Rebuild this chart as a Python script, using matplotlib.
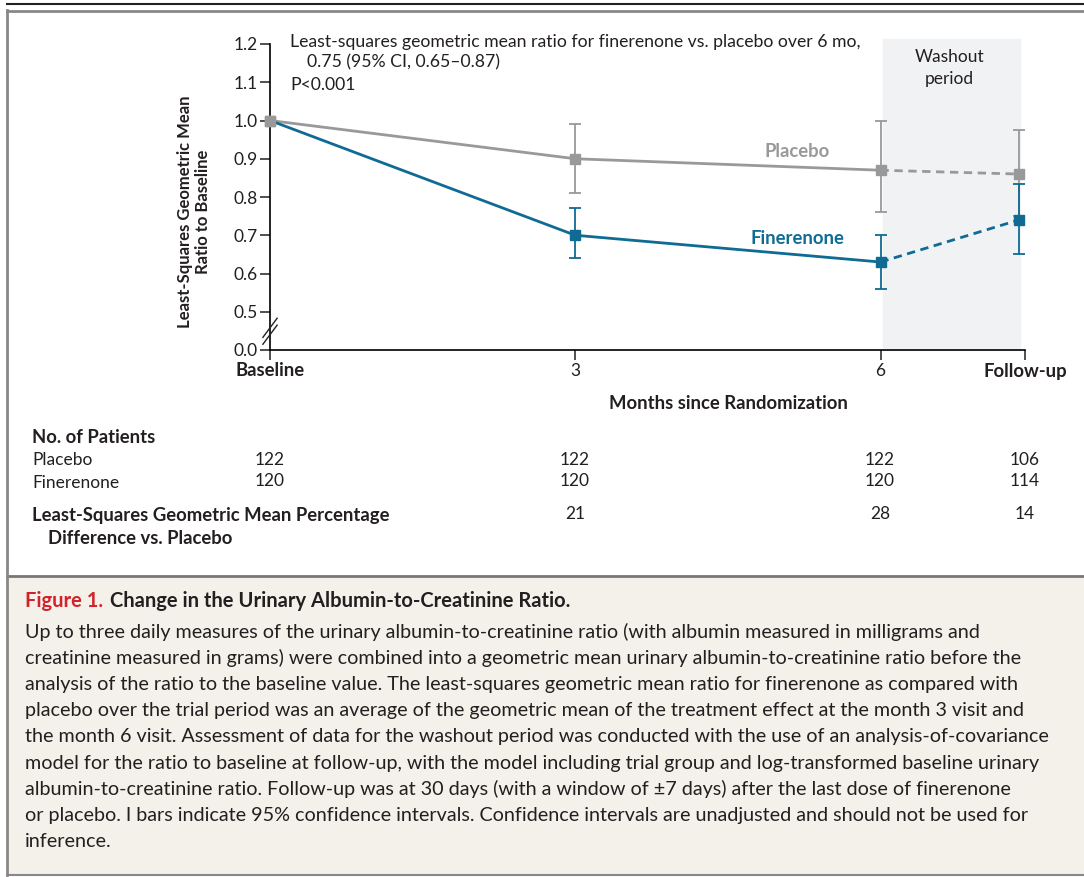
import matplotlib.pyplot as plt
import numpy as np

plt.rcParams['font.family'] = ['Lato', 'DejaVu Sans']

# visit positions in months (follow-up sits just past month 6)
months = [0, 3, 6, 7.36]
tick_pos = [0, 3, 6, 7.42]
tick_labels = ["Baseline", "3", "6", "Follow-up"]

placebo_ratio = [1.0, 0.90, 0.87, 0.86]
placebo_lo = [1.0, 0.81, 0.76, 0.75]
placebo_hi = [1.0, 0.99, 1.00, 0.975]

finer_ratio = [1.0, 0.70, 0.63, 0.74]
finer_lo = [1.0, 0.64, 0.56, 0.65]
finer_hi = [1.0, 0.77, 0.70, 0.835]

n_placebo = [122, 122, 122, 106]
n_finer = [120, 120, 120, 114]
pct_diff = [None, 21, 28, 14]

y_ticks = [0.4, 0.5, 0.6, 0.7, 0.8, 0.9, 1.0, 1.1, 1.2]
y_tick_labels = ["0.0", "0.5", "0.6", "0.7", "0.8", "0.9", "1.0", "1.1", "1.2"]

caption_lines = [
    "Up to three daily measures of the urinary albumin-to-creatinine ratio (with albumin measured in milligrams and",
    "creatinine measured in grams) were combined into a geometric mean urinary albumin-to-creatinine ratio before the",
    "analysis of the ratio to the baseline value. The least-squares geometric mean ratio for finerenone as compared with",
    "placebo over the trial period was an average of the geometric mean of the treatment effect at the month 3 visit and",
    "the month 6 visit. Assessment of data for the washout period was conducted with the use of an analysis-of-covariance",
    "model for the ratio to baseline at follow-up, with the model including trial group and log-transformed baseline urinary",
    "albumin-to-creatinine ratio. Follow-up was at 30 days (with a window of \u00b17 days) after the last dose of finerenone",
    "or placebo. I bars indicate 95% confidence intervals. Confidence intervals are unadjusted and should not be used for",
    "inference.",
]

GRAY = "#999999"
BLUE = "#0f6b93"
TXT = "#231f20"
FS = 12.5   # regular text
FB = 13.3   # bold labels

W, H = 1084, 877
fig = plt.figure(figsize=(W / 100, H / 100), dpi=100)


def fx(x):
    return x / W


def fy(y):
    return 1 - y / H


# frame lines and caption panel
fig.add_artist(plt.Line2D([fx(7), 1], [fy(4), fy(4)], color="#222222", lw=1.5))
fig.add_artist(plt.Line2D([fx(7), 1], [fy(10.5), fy(10.5)], color="#888888", lw=2))
fig.add_artist(plt.Rectangle((fx(7), fy(875)), 1, fy(576) - fy(875),
                             facecolor="#f4f1eb", edgecolor="none"))
fig.add_artist(plt.Line2D([fx(7), 1], [fy(576), fy(576)], color="#777777", lw=2))
fig.add_artist(plt.Line2D([fx(7), 1], [fy(875), fy(875)], color="#888888", lw=1.5))
fig.add_artist(plt.Line2D([fx(7), fx(7)], [fy(10), fy(875)], color="#888888", lw=2))

ax = fig.add_axes([fx(270), fy(350), fx(1025) - fx(270), fy(44) - fy(350)])
ax.set_xlim(0, 7.42)
ax.set_ylim(0.4, 1.2)
ax.patch.set_alpha(0)
for s in ["top", "right"]:
    ax.spines[s].set_visible(False)
ax.spines["left"].set_linewidth(1.2)
ax.spines["bottom"].set_linewidth(1.2)

# washout shading
ax.axvspan(6.02, 7.37, ymin=0, ymax=1.016, color="#f1f2f4", zorder=0, clip_on=False)
ax.text(6.68, 1.137, "Washout\nperiod", ha="center", va="center", fontsize=FS,
        color=TXT, linespacing=1.4)

# placebo
ax.plot(months[:3], placebo_ratio[:3], color=GRAY, lw=2, zorder=2)
ax.plot(months[2:], placebo_ratio[2:], color=GRAY, lw=2, ls=(0, (3, 2)), zorder=2)
ax.errorbar(months[1:], placebo_ratio[1:],
            yerr=[np.subtract(placebo_ratio[1:], placebo_lo[1:]),
                  np.subtract(placebo_hi[1:], placebo_ratio[1:])],
            fmt="none", ecolor=GRAY, elinewidth=1.3, capsize=4, capthick=1.3, zorder=2)
ax.plot(months, placebo_ratio, "s", color=GRAY, ms=7, zorder=3, clip_on=False)

# finerenone
ax.plot(months[:3], finer_ratio[:3], color=BLUE, lw=2, zorder=4)
ax.plot(months[2:], finer_ratio[2:], color=BLUE, lw=2, ls=(0, (3, 2)), zorder=4)
ax.errorbar(months[1:], finer_ratio[1:],
            yerr=[np.subtract(finer_ratio[1:], finer_lo[1:]),
                  np.subtract(finer_hi[1:], finer_ratio[1:])],
            fmt="none", ecolor=BLUE, elinewidth=1.3, capsize=4, capthick=1.3, zorder=4)
ax.plot(months[1:], finer_ratio[1:], "s", color=BLUE, ms=7, zorder=5, clip_on=False)
ax.plot(months[0], placebo_ratio[0], "s", color=GRAY, ms=7, zorder=6, clip_on=False)

ax.text(5.18, 0.919, "Placebo", color=GRAY, fontsize=FB, fontweight="bold",
        ha="center", va="center")
ax.text(5.18, 0.691, "Finerenone", color=BLUE, fontsize=FB, fontweight="bold",
        ha="center", va="center")

ax.set_xticks(tick_pos)
ax.set_xticklabels(tick_labels, fontsize=FS)
for lbl in ax.get_xticklabels():
    if lbl.get_text() in ("Baseline", "Follow-up"):
        lbl.set_fontweight("bold")
        lbl.set_fontsize(FB)
ax.set_yticks(y_ticks)
ax.set_yticklabels(y_tick_labels, fontsize=FS)
ax.tick_params(length=7, width=1.1, colors=TXT, pad=2)
ax.tick_params(axis="x", pad=2)

# axis break on the y spine
for dy in (0.0, 0.018):
    ax.plot([-0.07, 0.07], [0.415 + dy, 0.465 + dy], color="#222222", lw=1, clip_on=False,
            transform=ax.transData, zorder=7)

ax.set_xlabel("Months since Randomization", fontsize=FB, fontweight="bold", color=TXT)
ax.xaxis.set_label_coords((728 - 270) / (1025 - 270), -0.147)
fig.text(fx(194), fy(212), "Least-Squares Geometric Mean\nRatio to Baseline", rotation=90,
         ha="center", va="center", fontsize=12, fontweight="bold", color=TXT, linespacing=1.1)

fig.text(fx(290), fy(42), "Least-squares geometric mean ratio for finerenone vs. placebo over 6 mo,",
         fontsize=12.7, color=TXT, va="center")
fig.text(fx(307), fy(62), "0.75 (95% CI, 0.65\u20130.87)", fontsize=12.7, color=TXT, va="center")
fig.text(fx(290), fy(85), "P<0.001", fontsize=12.7, color=TXT, va="center")

# patients table
col_px = [270, 575, 880, 1025]
fig.text(fx(32), fy(437), "No. of Patients", fontsize=FB, fontweight="bold", color=TXT, va="center")
fig.text(fx(32), fy(460), "Placebo", fontsize=FS, color=TXT, va="center")
fig.text(fx(32), fy(483), "Finerenone", fontsize=FS, color=TXT, va="center")
for xp, a, b, d in zip(col_px, n_placebo, n_finer, pct_diff):
    fig.text(fx(xp), fy(460), str(a), fontsize=FS, color=TXT, ha="center", va="center")
    fig.text(fx(xp), fy(481), str(b), fontsize=FS, color=TXT, ha="center", va="center")
    if d is not None:
        fig.text(fx(xp), fy(514), str(d), fontsize=FS, color=TXT, ha="center", va="center")
fig.text(fx(32), fy(516), "Least-Squares Geometric Mean Percentage", fontsize=FB,
         fontweight="bold", color=TXT, va="center")
fig.text(fx(48), fy(538), "Difference vs. Placebo", fontsize=FB, fontweight="bold",
         color=TXT, va="center")

# caption
fig.text(fx(25), fy(601), "Figure 1.", fontsize=14.5, fontweight="bold", color="#d2232a", va="center")
fig.text(fx(110), fy(601), "Change in the Urinary Albumin-to-Creatinine Ratio.", fontsize=14.5,
         fontweight="bold", color=TXT, va="center")
for i, line in enumerate(caption_lines):
    fig.text(fx(25), fy(632 + 26.2 * i), line, fontsize=14.2, color=TXT, va="center")

fig.savefig("out.png", dpi=100)
